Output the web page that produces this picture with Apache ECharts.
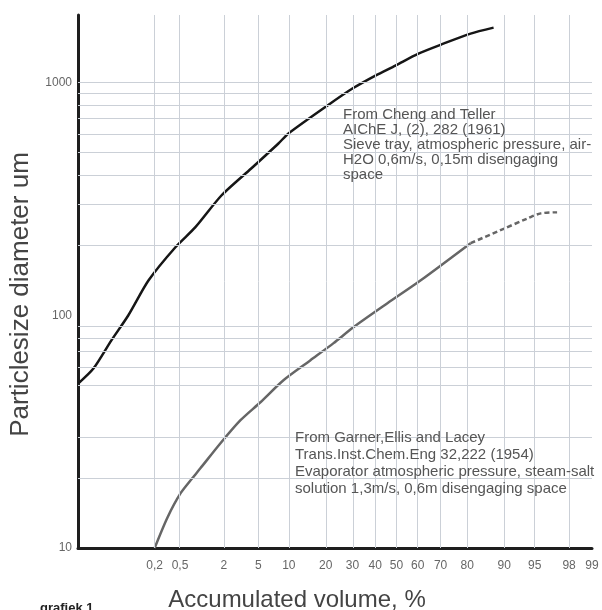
<!DOCTYPE html>
<html>
<head>
<meta charset="utf-8">
<style>
  html, body { margin: 0; padding: 0; background: #fff; }
  #chart { width: 602px; height: 610px; }
</style>
<script src="https://cdn.jsdelivr.net/npm/echarts@6/dist/echarts.min.js"></script>
</head>
<body>
<div id="chart"></div>
<script>
// x ticks on the probability scale (percent)
const tickPercents = [0.2, 0.5, 2, 5, 10, 20, 30, 40, 50, 60, 70, 80, 90, 95, 98, 99];
const tickLabels = ["0,2", "0,5", "2", "5", "10", "20", "30", "40", "50", "60", "70", "80", "90", "95", "98", "99"];
// horizontal grid values (um)
const yGridValues = [20, 30, 50, 60, 70, 80, 90, 200, 300, 400, 500, 600, 700, 800, 900, 1000];

// Cheng and Teller curve
const upperPct = [0.0077, 0.0155, 0.0346, 0.071, 0.158, 0.426, 0.836, 1.86, 4.22, 8.0, 9.93, 20.6, 30, 40.1, 49.5, 60.3, 71.2, 81.1, 87.6];
const upperVal = [51, 59, 78, 100, 141, 196, 239, 327, 428, 547, 604, 797, 942, 1071, 1183, 1331, 1469, 1622, 1721];

// Garner, Ellis and Lacey curve (solid part + dashed extrapolation)
const lowerPct = [0.2, 0.32, 0.51, 0.76, 0.98, 1.81, 3.17, 5.27, 8.93, 15.3, 22.7, 30.4, 45.7, 61.2, 81.1];
const lowerVal = [10, 13.5, 17.2, 20, 22, 28.2, 35.4, 42.3, 52.6, 64.1, 75.9, 88.8, 112.6, 141, 204];
const dashedPct = [81.1, 89.2, 94.1, 95.7, 97.2];
const dashedVal = [204, 232, 261, 274, 277];

// inverse normal CDF (Acklam) -> probability paper axis
function probit(p) {
  const a = [-3.969683028665376e+01, 2.209460984245205e+02, -2.759285104469687e+02, 1.383577518672690e+02, -3.066479806614716e+01, 2.506628277459239e+00];
  const b = [-5.447609879822406e+01, 1.615858368580409e+02, -1.556989798598866e+02, 6.680131188771972e+01, -1.328068155288572e+01];
  const c = [-7.784894002430293e-03, -3.223964580411365e-01, -2.400758277161838e+00, -2.549732539343734e+00, 4.374664141464968e+00, 2.938163982698783e+00];
  const d = [7.784695709041462e-03, 3.224671290700398e-01, 2.445134137142996e+00, 3.754408661907416e+00];
  const pl = 0.02425;
  let q, r;
  if (p < pl) {
    q = Math.sqrt(-2 * Math.log(p));
    return (((((c[0]*q+c[1])*q+c[2])*q+c[3])*q+c[4])*q+c[5]) / ((((d[0]*q+d[1])*q+d[2])*q+d[3])*q+1);
  }
  if (p > 1 - pl) {
    q = Math.sqrt(-2 * Math.log(1 - p));
    return -(((((c[0]*q+c[1])*q+c[2])*q+c[3])*q+c[4])*q+c[5]) / ((((d[0]*q+d[1])*q+d[2])*q+d[3])*q+1);
  }
  q = p - 0.5;
  r = q * q;
  return (((((a[0]*r+a[1])*r+a[2])*r+a[3])*r+a[4])*r+a[5])*q / (((((b[0]*r+b[1])*r+b[2])*r+b[3])*r+b[4])*r+1);
}
const z = (pct) => probit(pct / 100);
const toPoints = (pcts, vals) => pcts.map((p, i) => [z(p), vals[i]]);

const tickZ = tickPercents.map(z);
const gridColor = "#cbd0d7";
const font = "'Liberation Sans', Arial, sans-serif";

const chart = echarts.init(document.getElementById("chart"));

const option = {
  animation: false,
  backgroundColor: "#fff",
  grid: { left: 78, right: 10, top: 15, bottom: 62, containLabel: false, outerBoundsMode: "none" },
  xAxis: {
    type: "value",
    min: -3.79,
    max: z(99),
    name: "Accumulated volume, %",
    nameLocation: "middle",
    nameGap: 40,
    nameTextStyle: { fontSize: 24, color: "#444", fontFamily: font, padding: [0, 76, 0, 0] },
    axisLine: { onZero: false, lineStyle: { color: "#1e1e1e", width: 3 } },
    axisTick: { show: false },
    splitLine: { show: false },
    axisLabel: {
      customValues: tickZ,
      color: "#666",
      fontSize: 12,
      fontFamily: font,
      margin: 12,
      formatter: (v) => {
        let best = 0;
        tickZ.forEach((t, i) => { if (Math.abs(t - v) < Math.abs(tickZ[best] - v)) best = i; });
        return tickLabels[best];
      },
    },
  },
  yAxis: {
    type: "log",
    logBase: 10,
    min: 10,
    max: 1950,
    name: "Particlesize diameter um",
    nameLocation: "middle",
    nameGap: 44,
    nameRotate: 90,
    nameTextStyle: { fontSize: 26, color: "#444", fontFamily: font, padding: [0, 26, 0, 0] },
    axisLine: { onZero: false, lineStyle: { color: "#1e1e1e", width: 3 } },
    axisTick: { show: false },
    splitLine: { show: false },
    axisLabel: {
      color: "#666",
      fontSize: 12,
      fontFamily: font,
      margin: 6,
      showMaxLabel: false,
      formatter: (v) => String(Math.round(v)),
    },
  },
  series: [
    {
      name: "grid",
      type: "line",
      data: [],
      z: 1,
      silent: true,
      markLine: {
        silent: true,
        symbol: ["none", "none"],
        label: { show: false },
        lineStyle: { color: gridColor, width: 1, type: "solid" },
        emphasis: { disabled: true },
        data: [
          ...tickZ.map((v) => ({ xAxis: v })),
          ...yGridValues.map((v) => ({ yAxis: v })),
        ],
      },
    },
    {
      name: "Cheng and Teller",
      type: "line",
      data: toPoints(upperPct, upperVal),
      smooth: 0.25,
      symbol: "none",
      z: 3,
      lineStyle: { color: "#161616", width: 2.5 },
    },
    {
      name: "Garner, Ellis and Lacey",
      type: "line",
      data: toPoints(lowerPct, lowerVal),
      smooth: 0.25,
      symbol: "none",
      z: 3,
      lineStyle: { color: "#666", width: 2.5 },
    },
    {
      name: "Garner, Ellis and Lacey (extrapolated)",
      type: "line",
      data: toPoints(dashedPct, dashedVal),
      smooth: 0.3,
      symbol: "none",
      z: 3,
      lineStyle: { color: "#666", width: 2.5, type: [5, 3] },
    },
  ],
  graphic: [
    {
      type: "text",
      left: 343,
      top: 107,
      z: 10,
      style: {
        text: "From Cheng and Teller\nAIChE J, (2), 282 (1961)\nSieve tray, atmospheric pressure, air-\nH2O 0,6m/s, 0,15m disengaging\nspace",
        font: "15px " + font,
        lineHeight: 15,
        fill: "#555",
      },
    },
    {
      type: "text",
      left: 295,
      top: 430,
      z: 10,
      style: {
        text: "From Garner,Ellis and Lacey\nTrans.Inst.Chem.Eng 32,222 (1954)\nEvaporator atmospheric pressure, steam-salt\nsolution 1,3m/s, 0,6m disengaging space",
        font: "15px " + font,
        lineHeight: 16.7,
        fill: "#555",
      },
    },
    {
      type: "text",
      left: 40,
      top: 602,
      style: { text: "grafiek 1", font: "bold 13px " + font, fill: "#222" },
    },
  ],
};

chart.setOption(option);
window.addEventListener("resize", () => chart.resize());
</script>
</body>
</html>
